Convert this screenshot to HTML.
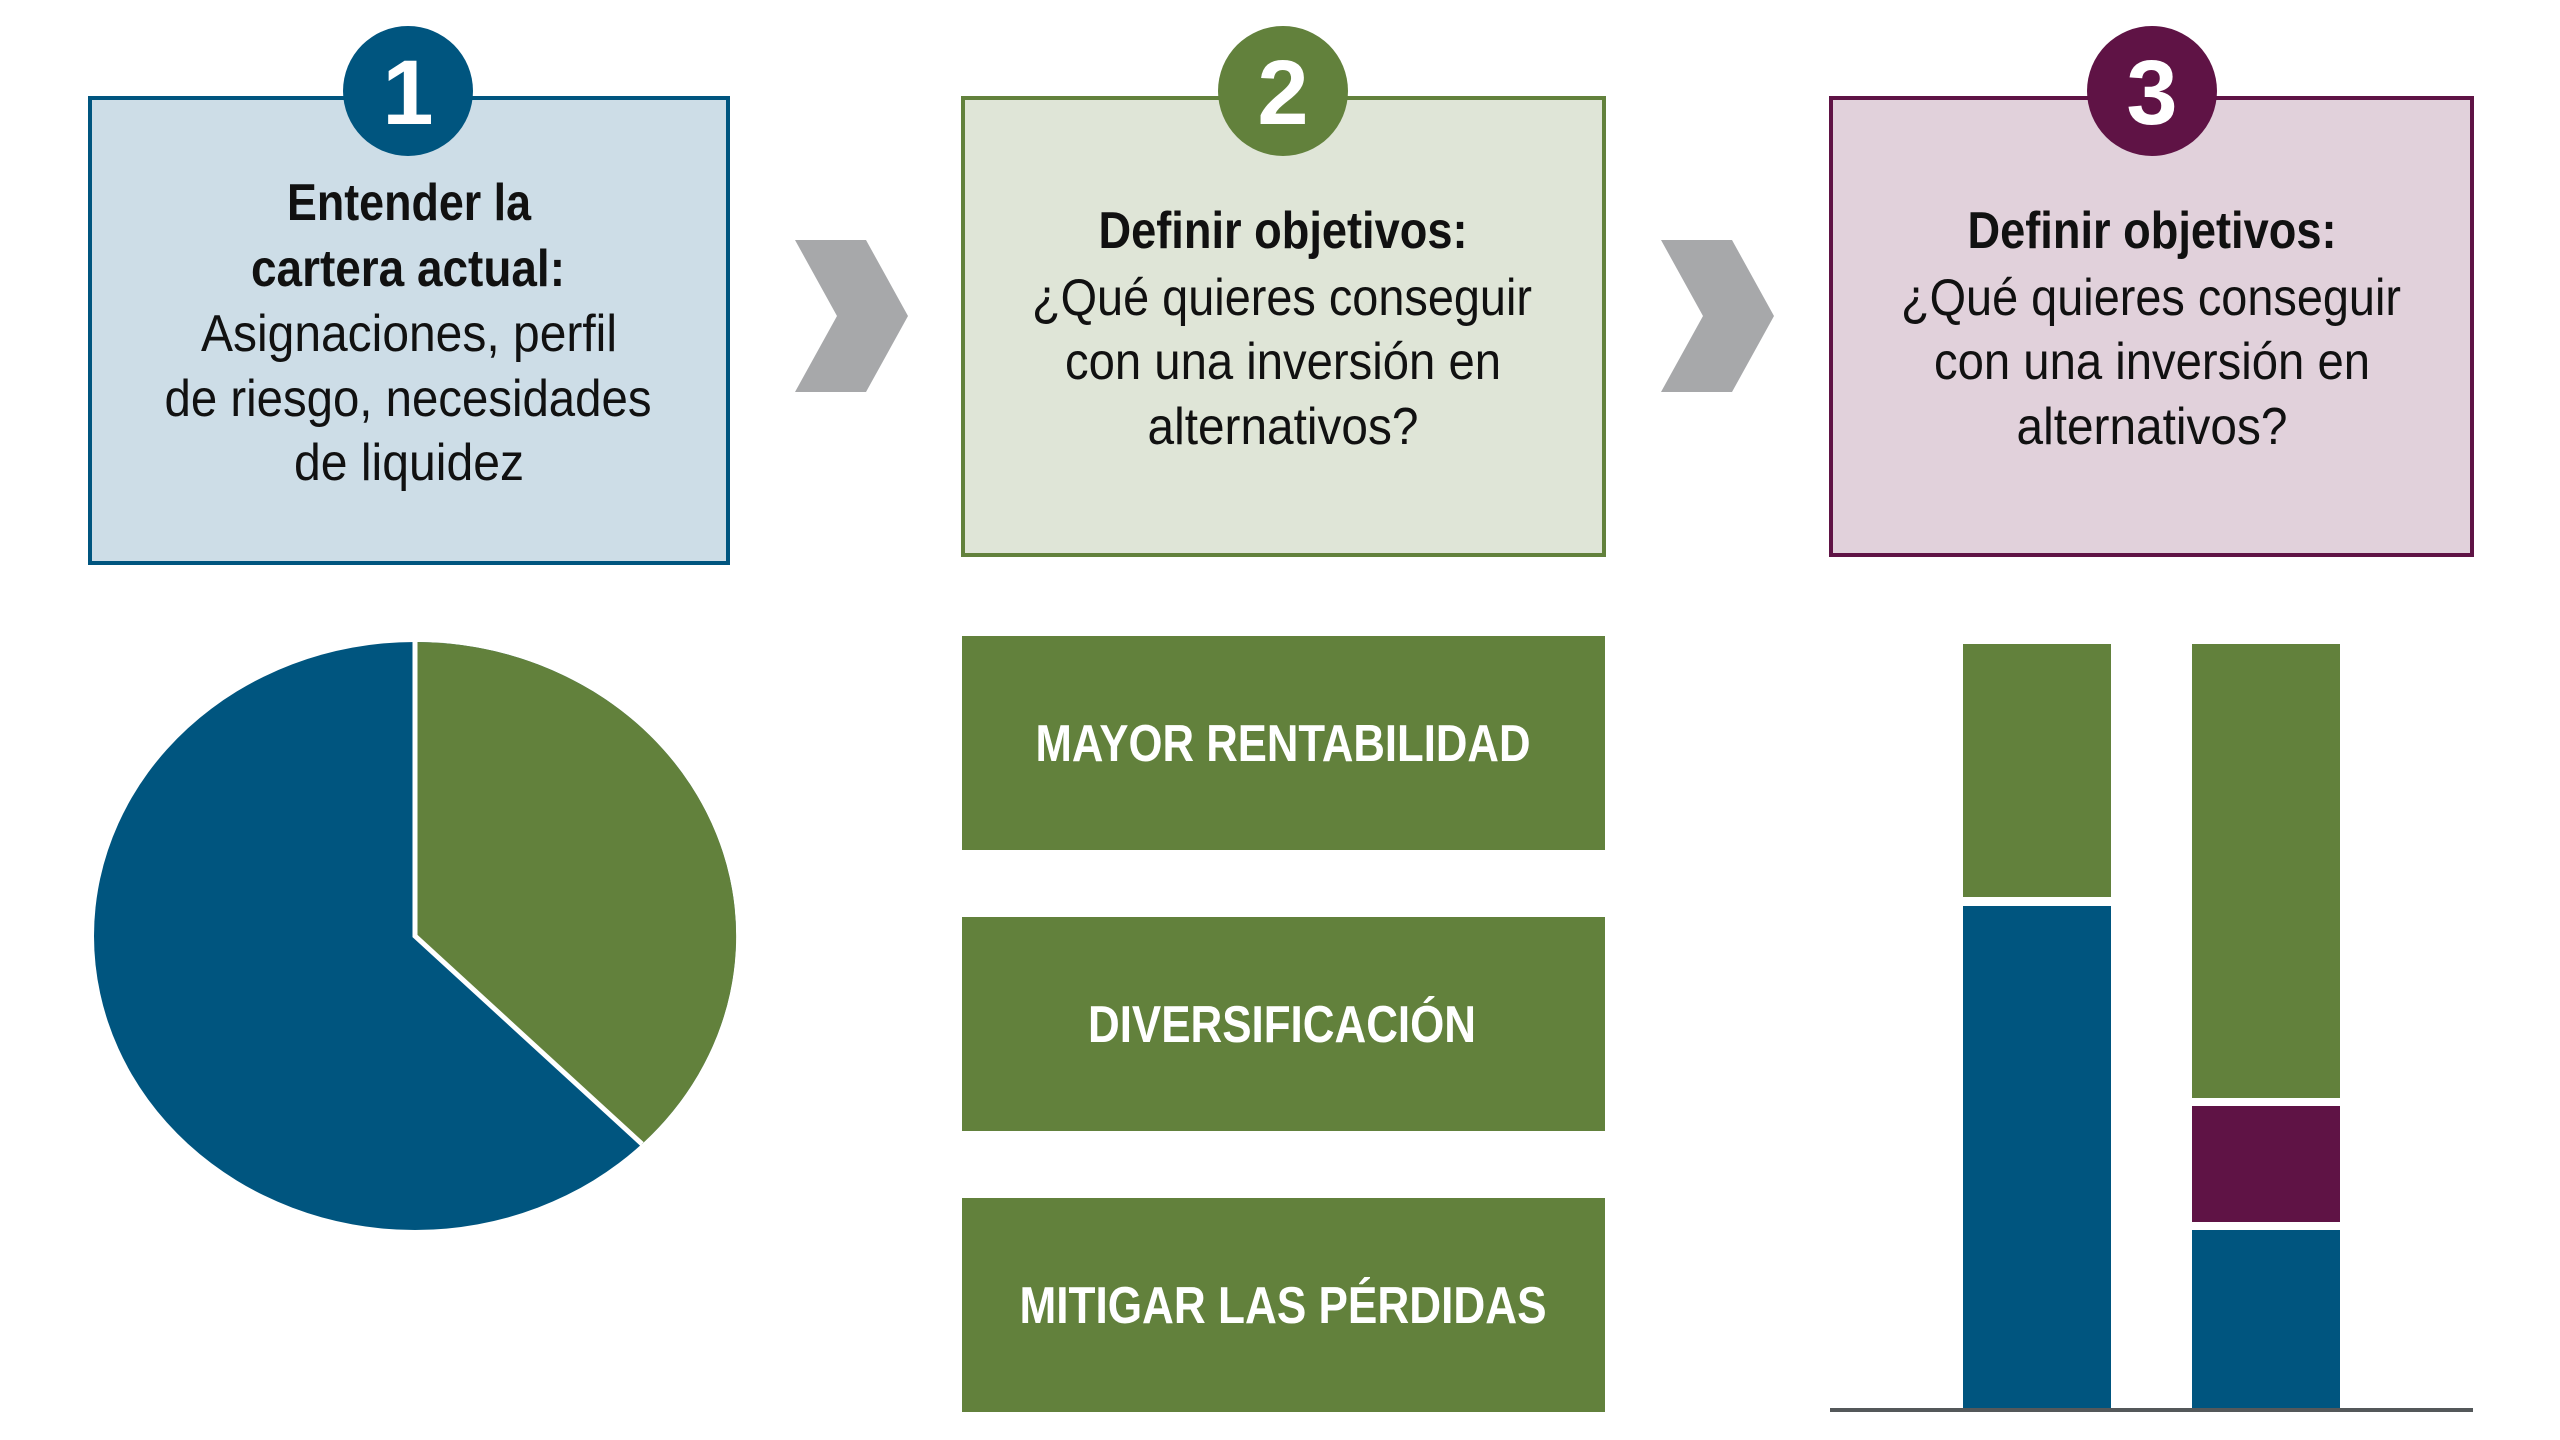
<!DOCTYPE html>
<html><head><meta charset="utf-8"><style>html,body{margin:0;padding:0;background:#fff}svg{display:block}</style></head>
<body>
<svg width="2560" height="1440" viewBox="0 0 2560 1440" xmlns="http://www.w3.org/2000/svg" font-family="'Liberation Sans Narrow','Liberation Sans',sans-serif">
<rect width="2560" height="1440" fill="#fff"/>
<!-- boxes -->
<rect x="90" y="98" width="638" height="465" fill="#cddde7" stroke="#00557f" stroke-width="4"/>
<rect x="963" y="98" width="641" height="457" fill="#dfe5d7" stroke="#62813c" stroke-width="4"/>
<rect x="1831" y="98" width="641" height="457" fill="#e1d1db" stroke="#5f1345" stroke-width="4"/>
<circle cx="408" cy="91" r="65" fill="#00557f"/>
<circle cx="1283" cy="91" r="65" fill="#62813c"/>
<circle cx="2152" cy="91" r="65" fill="#5f1345"/>
<g fill="#fff" font-weight="bold" font-size="92" text-anchor="middle">
<text x="408" y="124">1</text><text x="1283" y="124">2</text><text x="2152" y="124">3</text>
</g>
<!-- chevrons -->
<polygon points="795,240 866,240 908,316 866,392 795,392 837,316" fill="#a7a8aa"/>
<polygon points="1661,240 1732,240 1774,316 1732,392 1661,392 1703,316" fill="#a7a8aa"/>
<!-- box text -->
<g fill="#111" font-size="52" text-anchor="middle">
<text x="409" y="220" font-weight="bold" textLength="244" lengthAdjust="spacingAndGlyphs">Entender la</text>
<text x="408" y="286" font-weight="bold" textLength="314" lengthAdjust="spacingAndGlyphs">cartera actual:</text>
<text x="409" y="351" textLength="416" lengthAdjust="spacingAndGlyphs">Asignaciones, perfil</text>
<text x="408" y="416" textLength="487" lengthAdjust="spacingAndGlyphs">de riesgo, necesidades</text>
<text x="409" y="480" textLength="230" lengthAdjust="spacingAndGlyphs">de liquidez</text>
<text x="1283" y="248" font-weight="bold" textLength="369" lengthAdjust="spacingAndGlyphs">Definir objetivos:</text>
<text x="1282" y="315" textLength="500" lengthAdjust="spacingAndGlyphs">¿Qué quieres conseguir</text>
<text x="1283" y="379" textLength="436" lengthAdjust="spacingAndGlyphs">con una inversión en</text>
<text x="1283" y="444" textLength="271" lengthAdjust="spacingAndGlyphs">alternativos?</text>
<text x="2152" y="248" font-weight="bold" textLength="369" lengthAdjust="spacingAndGlyphs">Definir objetivos:</text>
<text x="2151" y="315" textLength="500" lengthAdjust="spacingAndGlyphs">¿Qué quieres conseguir</text>
<text x="2152" y="379" textLength="436" lengthAdjust="spacingAndGlyphs">con una inversión en</text>
<text x="2152" y="444" textLength="271" lengthAdjust="spacingAndGlyphs">alternativos?</text>
</g>
<!-- pie -->
<ellipse cx="415" cy="936" rx="321" ry="294" fill="#00557f"/>
<path d="M415,936 L415,642 A321,294 0 0 1 642,1144 Z" fill="#62813c"/>
<path d="M415,642 L415,936 L642,1144" fill="none" stroke="#fff" stroke-width="5"/>
<!-- green objective boxes -->
<rect x="962" y="636" width="643" height="214" fill="#62813c"/>
<rect x="962" y="917" width="643" height="214" fill="#62813c"/>
<rect x="962" y="1198" width="643" height="214" fill="#62813c"/>
<g fill="#fff" font-size="52" font-weight="bold" text-anchor="middle">
<text x="1283" y="761" textLength="495" lengthAdjust="spacingAndGlyphs">MAYOR RENTABILIDAD</text>
<text x="1282" y="1042" textLength="388" lengthAdjust="spacingAndGlyphs">DIVERSIFICACIÓN</text>
<text x="1283" y="1323" textLength="527" lengthAdjust="spacingAndGlyphs">MITIGAR LAS PÉRDIDAS</text>
</g>
<!-- bars -->
<rect x="1963" y="644" width="148" height="253" fill="#62813c"/>
<rect x="1963" y="906" width="148" height="504" fill="#00557f"/>
<rect x="2192" y="644" width="148" height="454" fill="#62813c"/>
<rect x="2192" y="1106" width="148" height="116" fill="#5f1345"/>
<rect x="2192" y="1230" width="148" height="180" fill="#00557f"/>
<rect x="1830" y="1408" width="643" height="4" fill="#54585a"/>
</svg>
</body></html>
